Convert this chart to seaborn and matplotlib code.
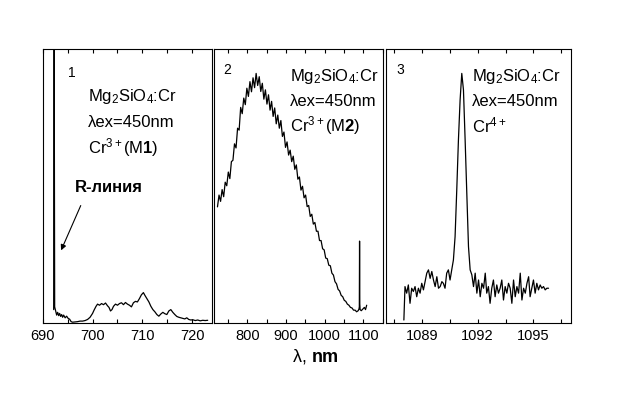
import matplotlib
matplotlib.use('Agg')
import matplotlib.pyplot as plt
import seaborn as sns
from matplotlib.ticker import MultipleLocator

# Panel 1: Cr3+ (M1), R-line region
wl1 = [692.20, 692.30, 692.40, 692.6, 692.8, 693.0, 693.2, 693.4, 693.6, 693.8,
       694.0, 694.2, 694.5, 694.8, 695.1, 695.4, 695.7, 696.0, 696.5, 697.0,
       697.5, 698.0, 698.5, 699.0, 699.5, 700.0, 700.3, 700.7, 701.0, 701.4,
       701.8, 702.2, 702.6, 703.0, 703.3, 703.6, 703.9, 704.2, 704.6, 705.0,
       705.4, 705.8, 706.2, 706.6, 707.0, 707.4, 707.8, 708.2, 708.6, 709.0,
       709.4, 709.8, 710.2, 710.5, 710.9, 711.3, 711.7, 712.1, 712.5, 712.9,
       713.3, 713.7, 714.1, 714.5, 714.9, 715.3, 715.7, 716.1, 716.5, 716.9,
       717.3, 717.7, 718.1, 718.5, 718.9, 719.3, 719.7, 720.1, 720.6, 721.1,
       721.6, 722.1, 722.6, 723.1]
int1 = [0.050, 1.050, 0.060, 0.045, 0.030, 0.040, 0.028, 0.036, 0.025, 0.032,
        0.022, 0.030, 0.020, 0.026, 0.018, 0.015, 0.006, 0.004, 0.005, 0.006,
        0.008, 0.008, 0.010, 0.014, 0.022, 0.036, 0.048, 0.062, 0.070, 0.066,
        0.072, 0.068, 0.074, 0.064, 0.058, 0.045, 0.050, 0.062, 0.070, 0.066,
        0.072, 0.075, 0.068, 0.076, 0.070, 0.066, 0.060, 0.075, 0.080, 0.078,
        0.090, 0.104, 0.112, 0.102, 0.090, 0.078, 0.062, 0.050, 0.042, 0.032,
        0.026, 0.034, 0.040, 0.035, 0.032, 0.045, 0.050, 0.040, 0.032, 0.025,
        0.022, 0.020, 0.018, 0.016, 0.020, 0.014, 0.012, 0.013, 0.010, 0.012,
        0.009, 0.011, 0.010, 0.011]

# Panel 2: Cr3+ (M2), broad band
wl2 = [723, 727, 731, 735, 739, 743, 747, 751, 755, 759, 763, 767, 771, 775,
       779, 783, 787, 791, 795, 799, 803, 807, 811, 815, 819, 823, 827, 831,
       835, 839, 843, 847, 851, 855, 859, 863, 867, 871, 875, 879, 883, 887,
       891, 895, 899, 903, 907, 911, 915, 919, 923, 927, 931, 935, 939, 943,
       947, 951, 955, 959, 963, 967, 971, 975, 979, 983, 987, 991, 995, 999,
       1003, 1007, 1011, 1015, 1019, 1023, 1027, 1031, 1035, 1039, 1043, 1047,
       1051, 1055, 1059, 1063, 1067, 1071, 1075, 1079, 1083, 1087, 1089, 1090,
       1090.6, 1091.2, 1092, 1095, 1099, 1103, 1106, 1109]
int2 = [0.425, 0.468, 0.445, 0.488, 0.462, 0.515, 0.502, 0.552, 0.528, 0.590,
        0.595, 0.655, 0.640, 0.712, 0.705, 0.788, 0.765, 0.822, 0.798, 0.858,
        0.828, 0.882, 0.845, 0.896, 0.860, 0.912, 0.868, 0.900, 0.846, 0.876,
        0.818, 0.852, 0.800, 0.834, 0.778, 0.810, 0.755, 0.786, 0.728, 0.760,
        0.712, 0.740, 0.682, 0.698, 0.642, 0.662, 0.614, 0.632, 0.590, 0.610,
        0.562, 0.578, 0.526, 0.534, 0.486, 0.500, 0.458, 0.468, 0.426, 0.430,
        0.390, 0.398, 0.362, 0.368, 0.336, 0.336, 0.302, 0.302, 0.272, 0.268,
        0.238, 0.236, 0.212, 0.210, 0.183, 0.176, 0.152, 0.144, 0.124, 0.118,
        0.102, 0.097, 0.084, 0.080, 0.070, 0.066, 0.058, 0.056, 0.048, 0.048,
        0.042, 0.046, 0.052, 0.060, 0.300, 0.070, 0.050, 0.046, 0.052, 0.058,
        0.050, 0.066]

# Panel 3: Cr4+ line
wl3 = [1088.04, 1088.10, 1088.19, 1088.28, 1088.37, 1088.46, 1088.55, 1088.64,
       1088.73, 1088.82, 1088.91, 1089.00, 1089.09, 1089.27, 1089.36, 1089.45,
       1089.54, 1089.63, 1089.72, 1089.81, 1089.90, 1089.99, 1090.08, 1090.16,
       1090.25, 1090.34, 1090.43, 1090.52, 1090.61, 1090.70, 1090.79, 1090.88,
       1090.97, 1091.06, 1091.15, 1091.24, 1091.33, 1091.42, 1091.51, 1091.60,
       1091.69, 1091.78, 1091.87, 1091.96, 1092.05, 1092.14, 1092.23, 1092.32,
       1092.41, 1092.49, 1092.58, 1092.67, 1092.76, 1092.85, 1092.94, 1093.03,
       1093.12, 1093.21, 1093.30, 1093.39, 1093.48, 1093.57, 1093.66, 1093.75,
       1093.84, 1093.93, 1094.02, 1094.11, 1094.20, 1094.29, 1094.38, 1094.47,
       1094.56, 1094.65, 1094.74, 1094.82, 1094.91, 1095.00, 1095.09, 1095.18,
       1095.27, 1095.36, 1095.45, 1095.54, 1095.63, 1095.72, 1095.81]
int3 = [0.012, 0.134, 0.110, 0.140, 0.073, 0.128, 0.116, 0.134, 0.097, 0.128,
        0.110, 0.146, 0.122, 0.183, 0.195, 0.164, 0.189, 0.158, 0.134, 0.170,
        0.128, 0.134, 0.152, 0.146, 0.128, 0.183, 0.195, 0.158, 0.195, 0.231,
        0.316, 0.486, 0.669, 0.815, 0.912, 0.852, 0.669, 0.474, 0.280, 0.195,
        0.177, 0.134, 0.183, 0.110, 0.158, 0.097, 0.146, 0.128, 0.183, 0.110,
        0.134, 0.073, 0.128, 0.158, 0.097, 0.140, 0.110, 0.128, 0.158, 0.085,
        0.134, 0.110, 0.146, 0.128, 0.073, 0.158, 0.097, 0.134, 0.110, 0.183,
        0.085, 0.128, 0.110, 0.146, 0.170, 0.097, 0.128, 0.158, 0.110, 0.146,
        0.122, 0.140, 0.128, 0.134, 0.122, 0.128, 0.128]

xlims = [(690, 724), (714, 1152), (1087.08, 1097)]
majors = [10, 100, 3]
minors = [5, 50, 1.5]
numbers = ['1', '2', '3']
sites = ['Cr$^{3+}$(M$\\mathbf{1}$)', 'Cr$^{3+}$(M$\\mathbf{2}$)', 'Cr$^{4+}$']

sns.set_style('white')
plt.rcParams['font.family'] = ['Liberation Sans', 'DejaVu Sans']
plt.rcParams['mathtext.fontset'] = 'custom'
plt.rcParams['mathtext.rm'] = 'Liberation Sans'
plt.rcParams['mathtext.it'] = 'Liberation Sans:italic'
plt.rcParams['mathtext.bf'] = 'Liberation Sans:bold'
plt.rcParams['text.color'] = 'black'
plt.rcParams['xtick.color'] = 'black'
plt.rcParams['axes.labelcolor'] = 'black'

fig = plt.figure(figsize=(6.24, 3.96), dpi=100)
bottom, height = 72.7 / 396, 274 / 396
boxes = [(42.7, 169.5), (214, 169.3), (386, 184.7)]
axes = [fig.add_axes([l / 624, bottom, w / 624, height]) for l, w in boxes]

for ax, wl, val in zip(axes, [wl1, wl2, wl3], [int1, int2, int3]):
    sns.lineplot(x=wl, y=val, ax=ax, color='black', lw=0.9, sort=False, estimator=None)

for i, ax in enumerate(axes):
    ax.set_xlim(*xlims[i])
    ax.set_ylim(0, 1)
    ax.set_yticks([])
    ax.xaxis.set_major_locator(MultipleLocator(majors[i]))
    ax.xaxis.set_minor_locator(MultipleLocator(minors[i]))
    ax.tick_params(which='both', direction='in', top=True, bottom=True,
                   length=3, width=0.8, color='black', labelcolor='black',
                   labelsize=10.5, pad=4)
    ax.set_xlabel('')
    ax.set_ylabel('')
    for s in ax.spines.values():
        s.set_color('black')
        s.set_linewidth(0.8)

# panel 1 annotations
ax1, ax2, ax3 = axes
ax1.text(0.172, 0.915, '1', transform=ax1.transAxes, ha='center', va='center', fontsize=10)
ax1.text(0.266, 0.826, 'Mg$_2$SiO$_4$:Cr', transform=ax1.transAxes, va='center', fontsize=12)
ax1.text(0.266, 0.734, 'λex=450nm', transform=ax1.transAxes, va='center', fontsize=12)
ax1.text(0.266, 0.643, sites[0], transform=ax1.transAxes, va='center', fontsize=12)
ax1.text(0.19, 0.497, 'R-линия', transform=ax1.transAxes, va='center',
         fontsize=12, fontweight='bold')
ax1.annotate('', xy=(0.102, 0.257), xytext=(0.231, 0.439), xycoords='axes fraction',
             arrowprops=dict(arrowstyle='-|>', color='black', lw=0.8,
                             mutation_scale=8))

for ax, n, site, nx, tx, ny in [(ax2, numbers[1], sites[1], 0.075, 0.449, 0.925),
                                (ax3, numbers[2], sites[2], 0.076, 0.466, 0.925)]:
    ax.text(nx, ny, n, transform=ax.transAxes, ha='center', va='center', fontsize=10)
    ax.text(tx, 0.899, 'Mg$_2$SiO$_4$:Cr', transform=ax.transAxes, va='center',
            fontsize=12, clip_on=False)
    ax.text(tx, 0.811, 'λex=450nm', transform=ax.transAxes, va='center',
            fontsize=12, clip_on=False)
    ax.text(tx, 0.723, site, transform=ax.transAxes, va='center',
            fontsize=12, clip_on=False)

fig.text(315 / 624, 1 - 356 / 396, 'λ, $\\mathbf{nm}$', ha='center', va='center', fontsize=13)

fig.savefig('out.png', dpi=100)
